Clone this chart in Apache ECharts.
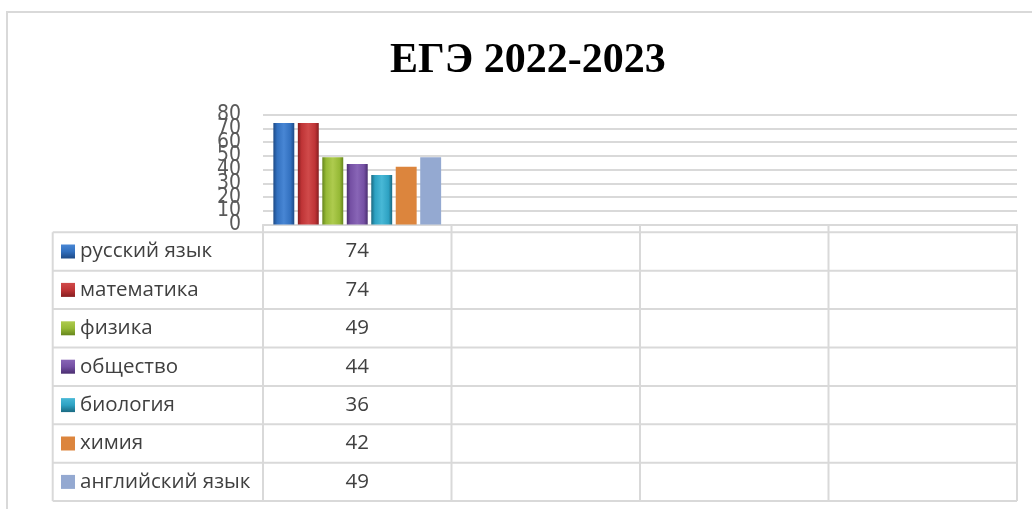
<!DOCTYPE html>
<html>
<head>
<meta charset="utf-8">
<script src="https://cdn.jsdelivr.net/npm/echarts@6/dist/echarts.min.js"></script>
<style>
html,body{margin:0;padding:0;background:#fff;}
#chart{width:1032px;height:509px;}
</style>
</head>
<body>
<div id="chart"></div>
<script>
// ---- data ----
const title = 'ЕГЭ 2022-2023';
const categories = ['', '', '', ''];
const subjects = ['русский язык', 'математика', 'физика', 'общество', 'биология', 'химия', 'английский язык'];
const scores = [74, 74, 49, 44, 36, 42, 49];
const yMin = 0, yMax = 80, yStep = 10;

// ---- styles ----
const palette = [
  { dark: '#1d4a86', mid: '#3270bf', light: '#4886d4', bevel: true },
  { dark: '#861e20', mid: '#bf3436', light: '#d04a4a', bevel: true },
  { dark: '#66861c', mid: '#96b936', light: '#aecb4e', bevel: true },
  { dark: '#4a2e70', mid: '#7550a4', light: '#8865b6', bevel: true },
  { dark: '#1a6a82', mid: '#2ea2c3', light: '#48b8d6', bevel: true },
  { dark: '#dc853d', mid: '#dc853d', light: '#dc853d', bevel: false },
  { dark: '#94a9d1', mid: '#94a9d1', light: '#94a9d1', bevel: false }
];
function fillFor(p) {
  if (!p.bevel) return p.mid;
  return new echarts.graphic.LinearGradient(0, 0, 1, 0, [
    { offset: 0, color: p.dark },
    { offset: 0.18, color: p.mid },
    { offset: 0.5, color: p.light },
    { offset: 0.82, color: p.mid },
    { offset: 1, color: p.dark }
  ]);
}
const lineColor = '#d9d9d9';
const textColor = '#404040';
const tableFont = '"Open Sans", "Noto Sans", sans-serif';
const tickFont = '"Liberation Sans Narrow", "DejaVu Sans Condensed", "Open Sans", sans-serif';

const chart = echarts.init(document.getElementById('chart'), null, { renderer: 'canvas' });

const gridLeft = 263, gridRight = 15, gridTop = 114.7, gridBottom = 509 - 224.5;

const series = subjects.map((name, i) => ({
  name: name,
  type: 'bar',
  barGap: '17%',
  barCategoryGap: '11%',
  data: categories.map((c, j) => (j === 0 ? scores[i] : null)),
  itemStyle: { color: fillFor(palette[i]) },
  silent: true
}));

const labelStyle = { margin: 22, color: '#595959', fontSize: 21, fontFamily: tickFont, hideOverlap: false };

chart.setOption({
  animation: false,
  backgroundColor: '#fff',
  title: {
    text: title,
    left: 385,
    top: 35,
    textStyle: {
      fontFamily: '"Liberation Serif", "Times New Roman", serif',
      fontWeight: 'bold',
      fontSize: 42,
      color: '#000'
    }
  },
  grid: { left: gridLeft, right: gridRight, top: gridTop, bottom: gridBottom, containLabel: false },
  xAxis: {
    type: 'category',
    data: categories,
    axisLine: { show: true, lineStyle: { color: lineColor, width: 2 } },
    axisTick: { show: false },
    axisLabel: { show: false },
    splitLine: { show: false }
  },
  yAxis: [{
    type: 'value',
    position: 'left',
    offset: 0,
    min: yMin, max: yMax, interval: yStep,
    axisLine: { show: false },
    axisTick: { show: false },
    axisLabel: Object.assign({ showMinLabel: false, showMaxLabel: false }, labelStyle),
    splitLine: { show: true, lineStyle: { color: lineColor, width: 2 } }
  }, {
    type: 'value',
    position: 'left',
    offset: 0,
    min: yMin, max: yMax, interval: yMax - yMin,
    axisLine: { show: false },
    axisTick: { show: false },
    axisLabel: Object.assign({ showMinLabel: true, showMaxLabel: true }, labelStyle),
    splitLine: { show: false }
  }],
  series: series
});

// ---- data table (built from the arrays, positioned from the chart's own scales) ----
function buildTable() {
  const n = categories.length;
  const c0 = chart.convertToPixel({ xAxisIndex: 0 }, 0);
  const c1 = chart.convertToPixel({ xAxisIndex: 0 }, 1);
  const band = c1 - c0;
  const xStart = c0 - band / 2;
  const xEnd = xStart + band * n;
  const yAxisZero = chart.convertToPixel({ yAxisIndex: 0 }, yMin);
  const headerH = 7.8;
  const rowTop = yAxisZero + headerH;
  const rowH = 38.4;
  const tableLeft = 52.7;
  const tableBottom = rowTop + rowH * subjects.length;
  const els = [];
  const line = (x1, y1, x2, y2) => els.push({
    type: 'line', silent: true,
    shape: { x1, y1, x2, y2 },
    style: { stroke: lineColor, lineWidth: 2 }
  });
  // outer frame
  els.push({ type: 'rect', silent: true, shape: { x: 7, y: 12, width: 1100, height: 600 },
    style: { fill: null, stroke: '#d9d9d9', lineWidth: 2 } });
  // header row line (bottom of header)
  line(xStart, rowTop, xEnd, rowTop);
  // row separators
  for (let r = 1; r <= subjects.length; r++) {
    line(tableLeft, rowTop + rowH * r, xEnd, rowTop + rowH * r);
  }
  line(tableLeft, rowTop, xStart, rowTop);
  // verticals
  line(tableLeft, rowTop, tableLeft, tableBottom);
  for (let k = 0; k <= n; k++) {
    const x = xStart + band * k;
    line(x, yAxisZero, x, tableBottom);
  }
  // rows
  subjects.forEach((name, i) => {
    const cy = rowTop + rowH * (i + 0.5);
    const p = palette[i];
    els.push({ type: 'rect', silent: true, shape: { x: 61, y: cy - 7, width: 14, height: 14 },
      style: { fill: p.bevel ? new echarts.graphic.LinearGradient(0, 0, 0, 1, [
        { offset: 0, color: p.light }, { offset: 0.5, color: p.mid }, { offset: 1, color: p.dark }]) : p.mid } });
    els.push({ type: 'text', silent: true, x: 80, y: cy,
      style: { text: name, fill: textColor, font: '20.5px ' + tableFont, textAlign: 'left', textVerticalAlign: 'middle' } });
    els.push({ type: 'text', silent: true, x: c0, y: cy,
      style: { text: String(scores[i]), fill: textColor, font: '20.5px ' + tableFont, textAlign: 'center', textVerticalAlign: 'middle' } });
  });
  chart.setOption({ graphic: { elements: els } });
}
buildTable();
</script>
</body>
</html>
